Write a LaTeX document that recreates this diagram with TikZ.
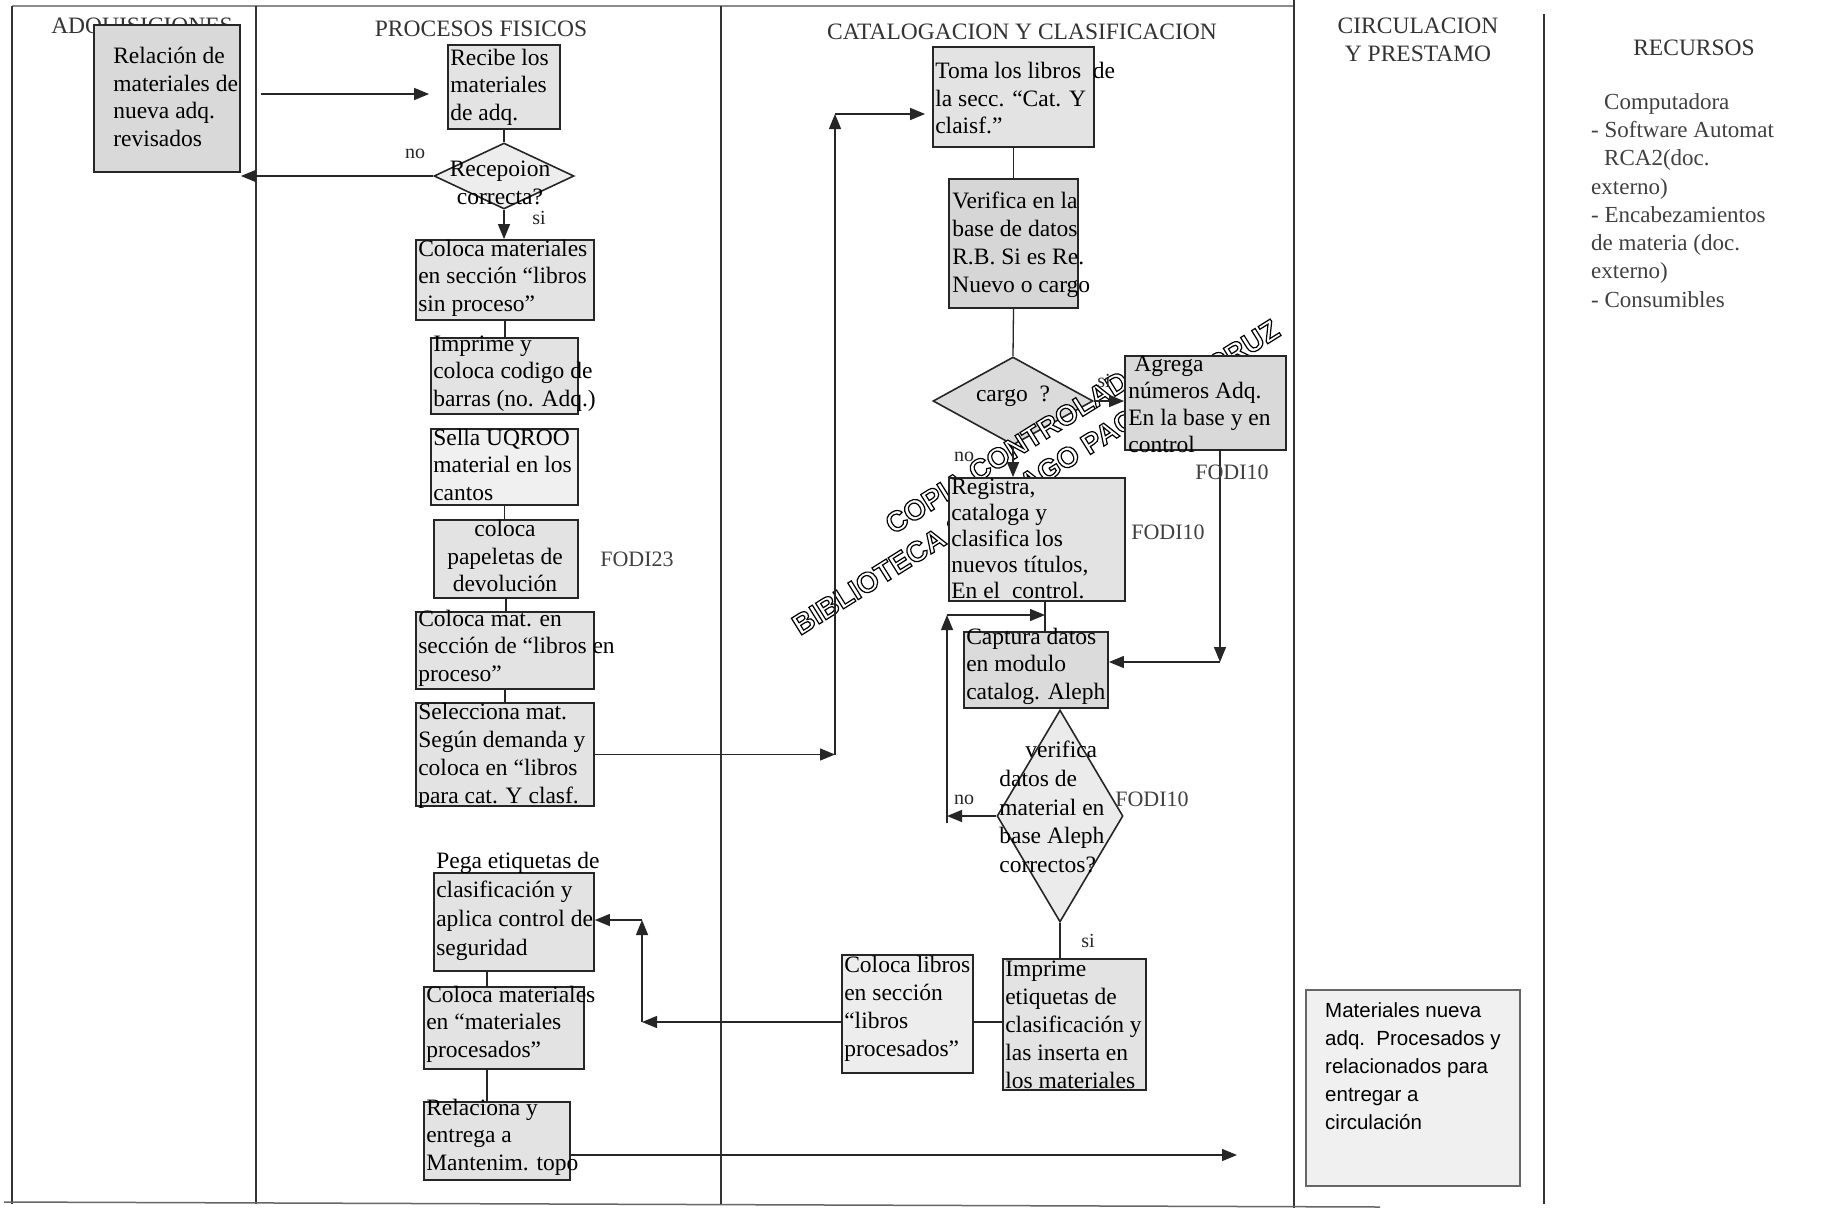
\documentclass[tikz,border=0pt]{standalone}
\usepackage{fontspec}
\setmainfont{Liberation Serif}
\newfontfamily\wmfont{Liberation Sans}
\newfontfamily\boxsans{Liberation Sans}
\usetikzlibrary{arrows.meta,calc,shapes.geometric}
% hollow stamp lettering: white fill, black stroke
\newcommand\hollow[1]{\special{pdf:literal direct 2 Tr 1.2 w 0 G 1 g}#1\special{pdf:literal direct 0 Tr 0 g}}

\begin{document}
\begin{tikzpicture}[x=1pt,y=-1pt,
  lane/.style={line width=1.5pt, draw=black!80},
  stepbox/.style={rectangle, draw=black!85, line width=1.8pt, fill=black!11, inner sep=0pt},
  decbox/.style={diamond, draw=black!85, line width=1.6pt, fill=black!7, inner sep=0pt},
  txt/.style={inner sep=0pt, anchor=west, align=left, font=\fontsize{23.5}{27.5}\selectfont},
  ctxt/.style={inner sep=0pt, anchor=center, align=center, font=\fontsize{23.5}{27.5}\selectfont},
  head/.style={inner sep=0pt, anchor=base, text=black!80, font=\fontsize{23.5}{28}\selectfont},
  lbl/.style={inner sep=0pt, font=\fontsize{20}{22}\selectfont, text=black!85},
  fodi/.style={inner sep=0pt, font=\fontsize{22}{24}\selectfont, text=black!75},
  conn/.style={line width=1.3pt, draw=black!85},
  arr/.style={conn, -{Triangle[length=15pt,width=12pt]}},
  wm/.style={inner sep=0pt, anchor=base west, rotate=32,
             font=\wmfont\bfseries\fontsize{28.5}{30}\selectfont},
]
\fill[white] (0,0) rectangle (1838,1213);
\useasboundingbox (0,0) rectangle (1838,1213);

% swim lanes
\draw[lane, draw=black!45] (12,6) -- (1294,6);
\draw[lane] (12,6) -- (12,1204);
\draw[lane] (256,6) -- (256,1204);
\draw[lane] (721,6) -- (721,1204);
\draw[lane] (1294,0) -- (1294,1208);
\draw[lane] (1544,14) -- (1544,1204);
\draw[lane, draw=black!60] (4,1202) -- (1380,1207);

% lane headings
\node[head] (hadq) at (142,33) {ADQUISICIONES};
\node[head] (hpro) at (481,36) {PROCESOS FISICOS};
\node[head] (hcat) at (1022,39) {CATALOGACION Y CLASIFICACION};
\node[head] (hcir1) at (1418,33) {CIRCULACION};
\node[head] (hcir2) at (1418,61) {Y PRESTAMO};
\node[head] (hrec) at (1694,55) {RECURSOS};

% resources list
\node[inner sep=0pt, anchor=north west, align=left, text=black!75,
      font=\fontsize{23}{28.3}\selectfont] (res) at (1591,93)
  {\hspace*{13pt}Computadora\\- Software Automat\\\hspace*{13pt}RCA2(doc.\\externo)\\- Encabezamientos\\de materia (doc.\\externo)\\- Consumibles};

% decisions
\node[decbox, minimum width=140, minimum height=66] (d1) at (504,176) {};
\node[decbox, minimum width=160, minimum height=88, fill=black!14] (d2) at (1013,401) {};
\node[decbox, minimum width=126, minimum height=212, fill=black!8] (d3) at (1060,816) {};

% library stamp
\node[wm] (wm1) at (800,636) {\hollow{BIBLIOTECA SANTIAGO PACHECO CRUZ}};
\node[wm] (wm2) at (893,535) {\hollow{COPIA CONTROLADA}};

% process boxes
\node[stepbox, minimum width=146, minimum height=147, fill=black!15] (rel) at (167,98.5) {};
\node[stepbox, minimum width=112, minimum height=84] (rec) at (504,87) {};
\node[stepbox, minimum width=178, minimum height=80] (col1) at (505,280) {};
\node[stepbox, minimum width=147, minimum height=76] (imp1) at (504.5,376) {};
\node[stepbox, minimum width=147, minimum height=76, fill=black!6] (sel1) at (504.5,467) {};
\node[stepbox, minimum width=144, minimum height=78] (pap) at (506,559) {};
\node[stepbox, minimum width=178, minimum height=77] (colm) at (505,650.5) {};
\node[stepbox, minimum width=178, minimum height=103] (selc) at (505,754.5) {};
\node[stepbox, minimum width=160, minimum height=98] (pega) at (514,922) {};
\node[stepbox, minimum width=160, minimum height=82] (col2) at (504,1028) {};
\node[stepbox, minimum width=146, minimum height=78] (relac) at (497,1141) {};
\node[stepbox, minimum width=161, minimum height=100] (toma) at (1013.5,97) {};
\node[stepbox, minimum width=129, minimum height=129, fill=black!16] (ver) at (1013.5,243.5) {};
\node[stepbox, minimum width=161, minimum height=94, fill=black!15] (agr) at (1205.5,403) {};
\node[stepbox, minimum width=176, minimum height=123] (reg) at (1037,539.5) {};
\node[stepbox, minimum width=144, minimum height=76, fill=black!14] (cap) at (1036,670) {};
\node[stepbox, minimum width=143, minimum height=131] (imp2) at (1074.5,1024.5) {};
\node[stepbox, minimum width=131, minimum height=118, fill=black!7] (coll) at (907.5,1014) {};
\node[stepbox, minimum width=214, minimum height=196, draw=black!60, line width=1.5pt, fill=black!6] (mat) at (1413,1088) {};

% box texts
\node[txt] (relt) at ($(rel.west)+(20,-1.5)$) {Relación de\\materiales de\\nueva adq.\\revisados};
\node[txt] (rect) at ($(rec.west)+(3,0)$) {Recibe los\\materiales\\de adq.};
\node[ctxt] (d1t) at (500,183) {Recepoion\\correcta?};
\node[txt] (col1t) at ($(col1.west)+(3,-2)$) {Coloca materiales\\en sección “libros\\sin proceso”};
\node[txt] (imp1t) at ($(imp1.west)+(3,-2.5)$) {Imprime y\\coloca codigo de\\barras (no. Adq.)};
\node[txt] (sel1t) at ($(sel1.west)+(3,-2.5)$) {Sella UQROO\\material en los\\cantos};
\node[ctxt] (papt) at (505,556) {coloca\\papeletas de\\devolución};
\node[txt] (colmt) at ($(colm.west)+(3,-2.5)$) {Coloca mat. en\\sección de “libros en\\proceso”};
\node[txt, font=\fontsize{23.5}{28}\selectfont] (selct) at ($(selc.west)+(3,1.5)$) {Selecciona mat.\\Según demanda y\\coloca en “libros\\para cat. Y clasf.};
\node[txt, font=\fontsize{23.5}{29}\selectfont] (pegat) at ($(pega.west)+(3,-15.5)$) {Pega etiquetas de\\clasificación y\\aplica control de\\seguridad};
\node[txt] (col2t) at ($(col2.west)+(3,-4)$) {Coloca materiales\\en “materiales\\procesados”};
\node[txt] (relact) at ($(relac.west)+(3,-4)$) {Relaciona y\\entrega a\\Mantenim. topo};
\node[txt] (tomat) at ($(toma.west)+(3,1.5)$) {Toma los libros\ \ de\\la secc. “Cat. Y\\claisf.”};
\node[txt, font=\fontsize{23.5}{28}\selectfont] (vert) at ($(ver.west)+(4,1.5)$) {Verifica en la\\base de datos\\R.B. Si es\ Re.\\Nuevo o cargo};
\node[ctxt] (d2t) at (1013,396) {cargo\ \ ?};
\node[txt, font=\fontsize{23.5}{27}\selectfont] (agrt) at ($(agr.west)+(4,1.5)$) {\hspace*{6pt}Agrega\\números Adq.\\En la base y en\\control};
\node[txt, font=\fontsize{23.5}{26}\selectfont] (regt) at ($(reg.west)+(3,-1)$) {Registra,\\cataloga y\\clasifica los\\nuevos títulos,\\En el\ \ control.};
\node[txt] (capt) at ($(cap.west)+(3,-4)$) {Captura\ datos\\en modulo\\catalog. Aleph};
\node[txt, font=\fontsize{23.5}{28.7}\selectfont] (d3t) at ($(d3.west)+(3,-9)$) {\hspace*{26pt}verifica\\datos de\\material en\\base Aleph\\correctos?};
\node[txt, font=\fontsize{23.5}{28}\selectfont] (imp2t) at ($(imp2.west)+(3,0)$) {Imprime\\etiquetas de\\clasificación y\\las inserta en\\los materiales};
\node[txt, font=\fontsize{23.5}{28}\selectfont] (collt) at ($(coll.west)+(3,-5.5)$) {Coloca libros\\en sección\\“libros\\procesados”};
\node[txt, font=\boxsans\fontsize{20.5}{28}\selectfont] (matt) at (1325,1066) {Materiales nueva\\adq.\ \ Procesados y\\relacionados para\\entregar a\\circulación};

% connectors: physical processing
\coordinate (a0) at ($(rel.east)+(20,-4.5)$);
\draw[arr, shorten >=18pt] (a0) -- (a0 -| rec.west);
\draw[conn] (rec.south) -- (d1.north);
\draw[arr] (d1.west) -- (d1.west -| rel.east);
\draw[arr] (d1.south) -- (d1.south |- col1.north);
\draw[conn] (col1.south) -- (col1.south |- imp1.north);
\draw[conn] (sel1.south) -- (sel1.south |- pap.north);
\draw[conn] (pap.south) -- (pap.south |- colm.north);
\draw[conn] (colm.south) -- (colm.south |- selc.north);

% to cataloguing
\coordinate (jx) at (835,114);
\draw[arr] (selc.east) -- (selc.east -| jx);
\draw[arr] (selc.east -| jx) -- (jx);
\draw[arr, shorten >=7pt] (jx) -- (jx -| toma.west);

% cataloguing
\draw[conn] (toma.south) -- (ver.north);
\draw[conn] (ver.south) -- (d2.north);
\draw[arr] (d2.east) -- (d2.east -| agr.west);
\draw[arr] (d2.south) -- (d2.south |- reg.north);
\coordinate (oc) at (1220,662);
\draw[arr] (agr.south -| oc) -- (oc);
\draw[arr] (oc) -- (oc -| cap.east);
\coordinate (rx) at (1045,615);
\coordinate (lx) at (947,615);
\draw[conn] (reg.south -| rx) -- (cap.north -| rx);
\draw[arr] (d3.west) -- (d3.west -| lx);
\draw[arr] ($(d3.west -| lx)+(0,7)$) -- (lx);
\draw[arr] (lx) -- (rx);
\draw[conn] (d3.south) -- (d3.south |- imp2.north);

% back to physical processing
\coordinate (u0) at (642,1022);
\coordinate (u1) at (642,920);
\draw[conn] (imp2.west |- u0) -- (coll.east |- u0);
\draw[arr] (coll.west |- u0) -- (u0);
\draw[arr] (u0) -- (u1);
\draw[arr] (u1) -- (u1 -| pega.east);
\coordinate (px) at (487,0);
\draw[conn] (pega.south -| px) -- (col2.north -| px);
\draw[conn] (col2.south -| px) -- (relac.north -| px);
\coordinate (w1) at (1237,1155);
\draw[arr] (relac.east |- w1) -- (w1);

% branch labels and form codes
\node[lbl] (l1) at (415,154) {no};
\node[lbl] (l2) at (539,218) {si};
\node[lbl] (l3) at (1104,381) {si};
\node[lbl] (l4) at (964,457) {no};
\node[lbl] (l5) at (964,800) {no};
\node[lbl] (l6) at (1088,941) {si};
\node[fodi] (f1) at (637,559) {FODI23};
\node[fodi] (f2) at (1232,472) {FODI10};
\node[fodi] (f3) at (1168,532) {FODI10};
\node[fodi] (f4) at (1152,799) {FODI10};
\end{tikzpicture}
\end{document}
